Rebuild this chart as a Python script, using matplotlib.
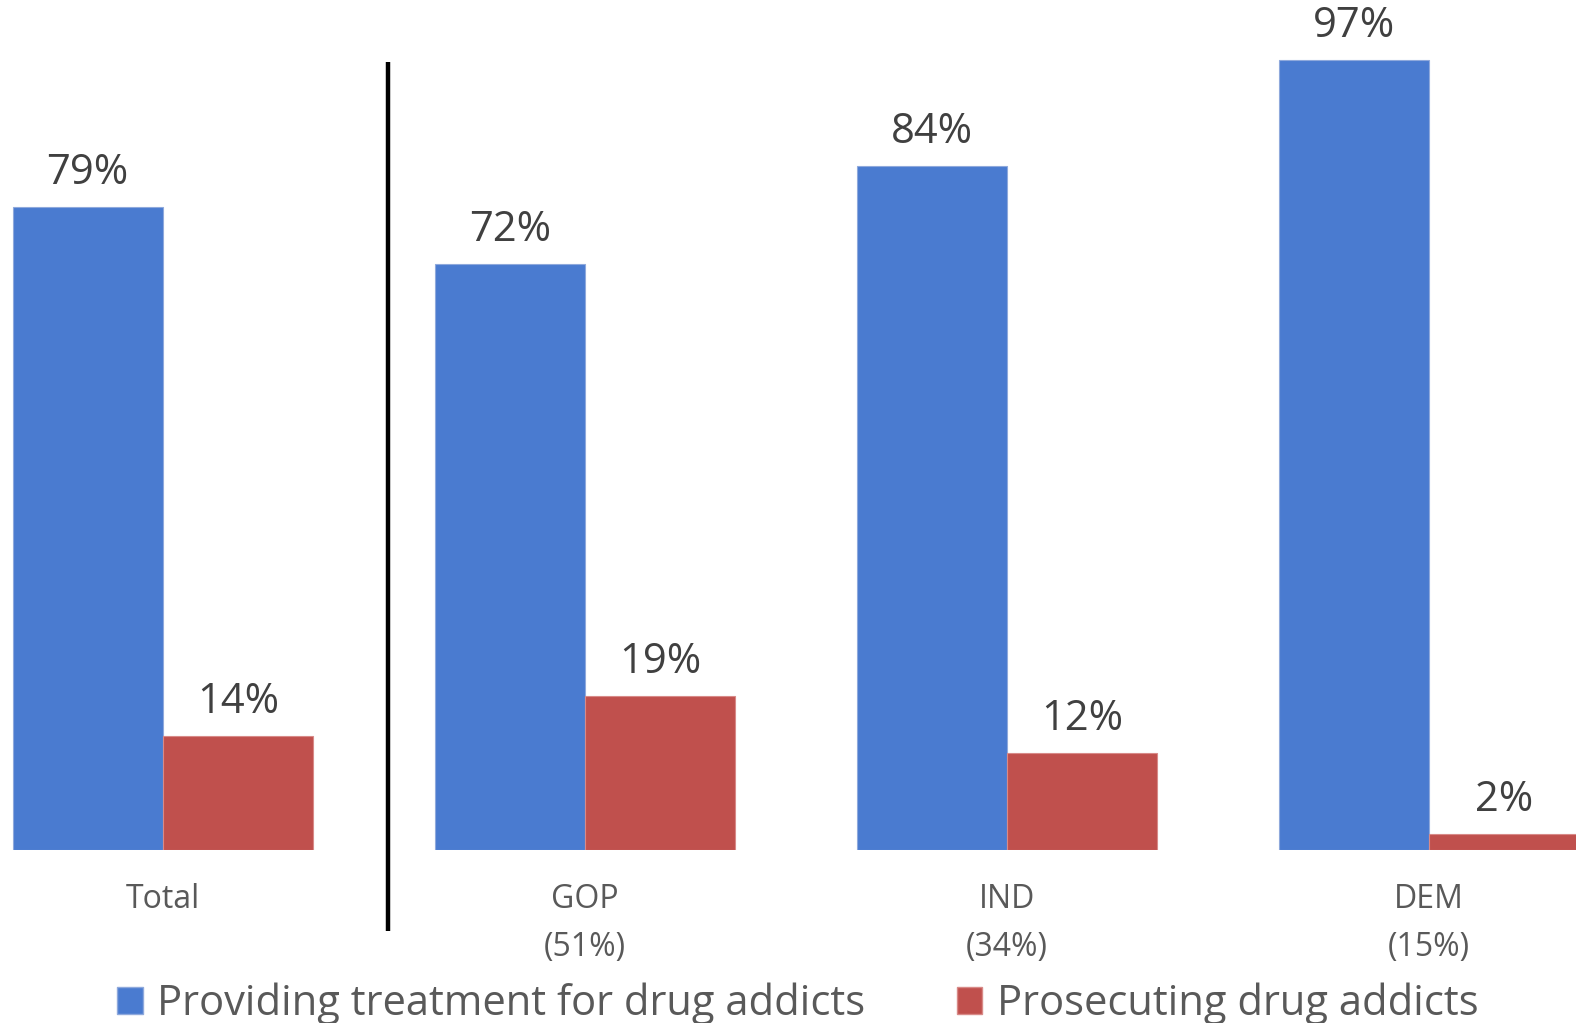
import matplotlib
matplotlib.use("Agg")
import matplotlib.pyplot as plt
from matplotlib.patches import Patch
import numpy as np

plt.rcParams['font.family'] = ['Open Sans', 'DejaVu Sans']

groups = ["Total", "GOP", "IND", "DEM"]
group_shares = ["", "(51%)", "(34%)", "(15%)"]
treatment = [79, 72, 84, 97]
prosecuting = [14, 19, 12, 2]
series_names = ["Providing treatment for drug addicts", "Prosecuting drug addicts"]

blue = "#4A7BD0"
red = "#C0504D"
label_color = "#404040"
cat_color = "#595959"

W, H = 1576, 1023
spacing = 422.1          # pixels between group centres
first_center = 162.8     # pixel x of the first group centre
baseline = 850.3         # pixel y of the bar baseline (from top)
px_per_pct = 8.144

fig = plt.figure(figsize=(W / 100, H / 100), dpi=100)
ax = fig.add_axes([0, (H - baseline) / H, 1, baseline / H])

x = np.arange(len(groups))
w = 150.2 / spacing
bars_t = ax.bar(x - w / 2, treatment, width=w, color=blue, edgecolor="#8FA9DC", linewidth=0.8)
bars_p = ax.bar(x + w / 2, prosecuting, width=w, color=red, edgecolor="#D88A88", linewidth=0.8)

ax.set_xlim(-first_center / spacing, (W - first_center) / spacing)
ax.set_ylim(0, baseline / px_per_pct)
ax.axis("off")

for bars, vals in ((bars_t, treatment), (bars_p, prosecuting)):
    for b, v in zip(bars, vals):
        ax.annotate(f"{v}%", (b.get_x() + b.get_width() / 2, v),
                    xytext=(0, 34), textcoords="offset pixels",
                    ha="center", va="center", fontsize=30, color=label_color)

for xi, name, share in zip(x, groups, group_shares):
    ax.annotate(name, (xi, 0), xytext=(0, -49), textcoords="offset pixels",
                ha="center", va="center", fontsize=23, color=cat_color)
    if share:
        ax.annotate(share, (xi, 0), xytext=(0, -97), textcoords="offset pixels",
                    ha="center", va="center", fontsize=23, color=cat_color)

# separator between the total and the party breakdown
sep_x = (388 - first_center) / spacing
ax.plot([sep_x, sep_x], [(baseline - 930.7) / px_per_pct, (baseline - 62.3) / px_per_pct],
        color="black", lw=3.2, clip_on=False, solid_capstyle="butt")

handles = [Patch(facecolor=blue, edgecolor="#8FA9DC"), Patch(facecolor=red, edgecolor="#D88A88")]
leg = fig.legend(handles, series_names, loc="center", bbox_to_anchor=(0.506, 1 - 1004 / H),
                 ncol=2, frameon=False, fontsize=30, handlelength=0.62, handleheight=0.62,
                 handletextpad=0.34, columnspacing=2.2, borderpad=0)
for t in leg.get_texts():
    t.set_color(cat_color)

fig.savefig("out.png", dpi=100, facecolor="white")
